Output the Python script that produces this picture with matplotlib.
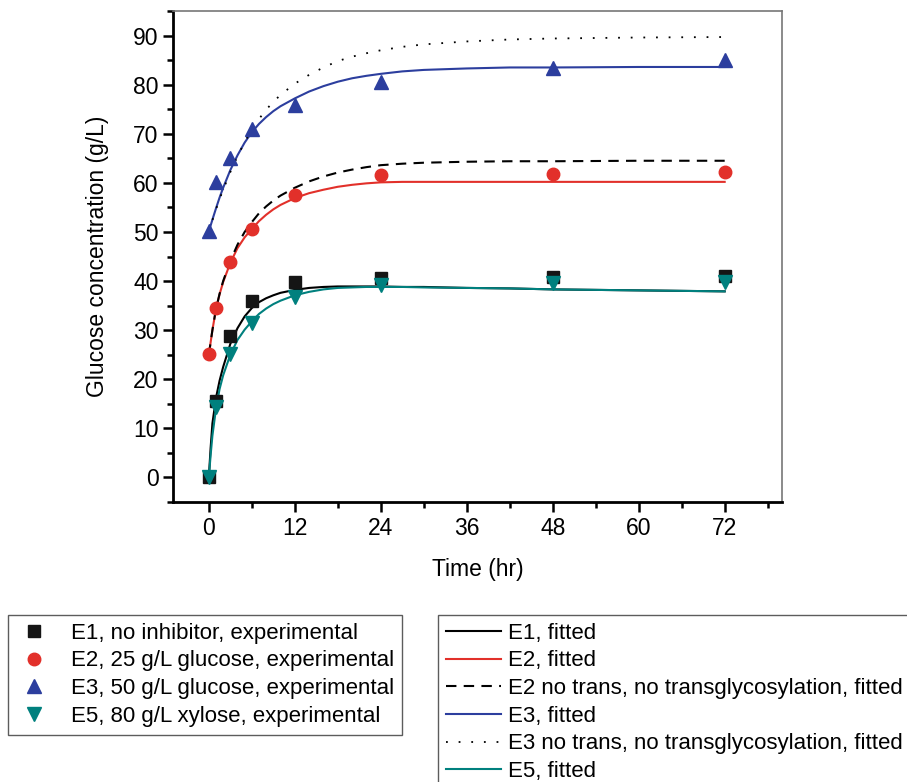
import matplotlib
matplotlib.use("Agg")
import matplotlib.pyplot as plt
from matplotlib.ticker import MultipleLocator

plt.rcParams['font.family'] = ['Liberation Sans', 'DejaVu Sans']

# experimental points
t_exp = [0, 1, 3, 6, 12, 24, 48, 72]
e1_exp = [0, 15.5, 28.8, 35.9, 39.8, 40.6, 40.9, 41.0]
e2_exp = [25.2, 34.6, 43.9, 50.6, 57.5, 61.6, 61.8, 62.2]
e3_exp = [50.2, 60.1, 65.1, 71.0, 75.8, 80.5, 83.3, 85.0]
e5_exp = [0, 14.4, 25.2, 31.4, 36.7, 39.2, 39.6, 39.8]

# fitted curves
t_fit = [0, 0.25, 0.5, 1, 1.5, 2, 3, 4, 5, 6, 7, 8, 9, 10, 12, 14, 16, 18, 20,
         22, 24, 27, 30, 36, 42, 48, 60, 72]
e1_fit = [0, 6, 11, 16.2, 19.7, 22.5, 27.2, 30.4, 32.8, 34.5, 35.7, 36.5, 37.1, 37.6,
          38.2, 38.6, 38.8, 38.9, 38.9, 38.9, 38.9, 38.8, 38.8, 38.6, 38.5, 38.3, 38.1, 37.9]
e2_fit = [25, 27.5, 30, 34.3, 37.3, 39.8, 43.7, 46.7, 48.9, 50.6, 52.2, 53.5, 54.6, 55.5,
          56.9, 57.9, 58.6, 59.2, 59.6, 59.9, 60.1, 60.2, 60.2, 60.2, 60.2, 60.2, 60.2, 60.2]
e2_nt = [25, 27.5, 30, 34.3, 37.4, 40.0, 44.1, 47.4, 50.0, 52.0, 53.8, 55.2, 56.4, 57.4,
         59.0, 60.3, 61.3, 62.1, 62.7, 63.2, 63.6, 63.9, 64.1, 64.3, 64.4, 64.4, 64.5, 64.5]
e3_fit = [50, 51.3, 52.5, 54.8, 57, 59, 62.6, 65.6, 68.2, 70.3, 72.0, 73.4, 74.6, 75.6,
          77.2, 78.6, 79.7, 80.6, 81.3, 81.8, 82.2, 82.7, 83.0, 83.3, 83.5, 83.5, 83.6, 83.6]
e3_nt = [50, 51.2, 52.4, 54.6, 56.7, 58.6, 62.2, 65.4, 68.3, 70.9, 73.0, 74.9, 76.5, 77.9,
         80.2, 82.0, 83.5, 84.8, 85.7, 86.4, 87.0, 87.7, 88.2, 88.8, 89.2, 89.4, 89.6, 89.7]
e5_fit = [0, 4.5, 8.5, 14, 18, 20.8, 25.0, 28.0, 30.1, 31.8, 33.3, 34.4, 35.3, 36.0,
          37.1, 37.8, 38.3, 38.6, 38.7, 38.8, 38.8, 38.8, 38.7, 38.6, 38.5, 38.3, 38.1, 37.9]

red = '#e2302a'
blue = '#2c3e9e'
teal = '#00807e'

fig = plt.figure(figsize=(9.07, 7.82), dpi=100)
ax = fig.add_axes([173/907, 1-502/782, (782-173)/907, (502-11)/782])

l1, = ax.plot(t_fit, e1_fit, color='black', lw=1.5, label='E1, fitted')
l2, = ax.plot(t_fit, e2_fit, color=red, lw=1.5, label='E2, fitted')
l2n, = ax.plot(t_fit, e2_nt, color='black', lw=1.5, ls=(0, (5, 3.5)),
               label='E2 no trans, no transglycosylation, fitted')
l3, = ax.plot(t_fit, e3_fit, color=blue, lw=1.5, label='E3, fitted')
l3n, = ax.plot(t_fit, e3_nt, color='black', lw=1.3, ls=(0, (1, 6)),
               label='E3 no trans, no transglycosylation, fitted')
l5, = ax.plot(t_fit, e5_fit, color=teal, lw=1.5, label='E5, fitted')

m1, = ax.plot(t_exp, e1_exp, 's', color='#151515', ms=8, ls='none',
              label='E1, no inhibitor, experimental')
m2, = ax.plot(t_exp, e2_exp, 'o', color=red, ms=9, ls='none',
              label='E2, 25 g/L glucose, experimental')
m3, = ax.plot(t_exp, e3_exp, '^', color=blue, ms=10, ls='none',
              label='E3, 50 g/L glucose, experimental')
m5, = ax.plot(t_exp, e5_exp, 'v', color=teal, ms=10, ls='none',
              label='E5, 80 g/L xylose, experimental')

ax.set_xlim(-5, 80)
ax.set_ylim(-5, 95)
ax.xaxis.set_major_locator(MultipleLocator(12))
ax.xaxis.set_minor_locator(MultipleLocator(6))
ax.yaxis.set_major_locator(MultipleLocator(10))
ax.yaxis.set_minor_locator(MultipleLocator(5))
ax.set_xticks(range(0, 73, 12))
ax.tick_params(which='both', direction='out', width=1.8, labelsize=16.5, top=False, right=False)
ax.tick_params(which='major', length=7)
ax.tick_params(which='minor', length=4)
for s in ['left', 'bottom']:
    ax.spines[s].set_linewidth(2)
for s in ['top', 'right']:
    ax.spines[s].set_color('#777777')
    ax.spines[s].set_linewidth(1.2)

ax.set_xlabel('Time (hr)', fontsize=16.5, labelpad=13)
ax.set_ylabel('Glucose concentration (g/L)', fontsize=16.5, labelpad=17)

leg1 = fig.legend(handles=[m1, m2, m3, m5], loc='upper left',
                  bbox_to_anchor=(8/907, 1-615/782), borderaxespad=0,
                  fontsize=16, frameon=True, fancybox=False,
                  edgecolor='#333333', handlelength=1.6, handletextpad=0.9,
                  labelspacing=0.3, borderpad=0.35)
leg1.get_frame().set_linewidth(1.0)
leg2 = fig.legend(handles=[l1, l2, l2n, l3, l3n, l5], loc='upper left',
                  bbox_to_anchor=(438/907, 1-615/782), borderaxespad=0,
                  fontsize=16, frameon=True, fancybox=False,
                  edgecolor='#333333', handlelength=2.5, handletextpad=0.3,
                  labelspacing=0.3, borderpad=0.35)
leg2.get_frame().set_linewidth(1.0)

fig.savefig('out.png', dpi=100)
